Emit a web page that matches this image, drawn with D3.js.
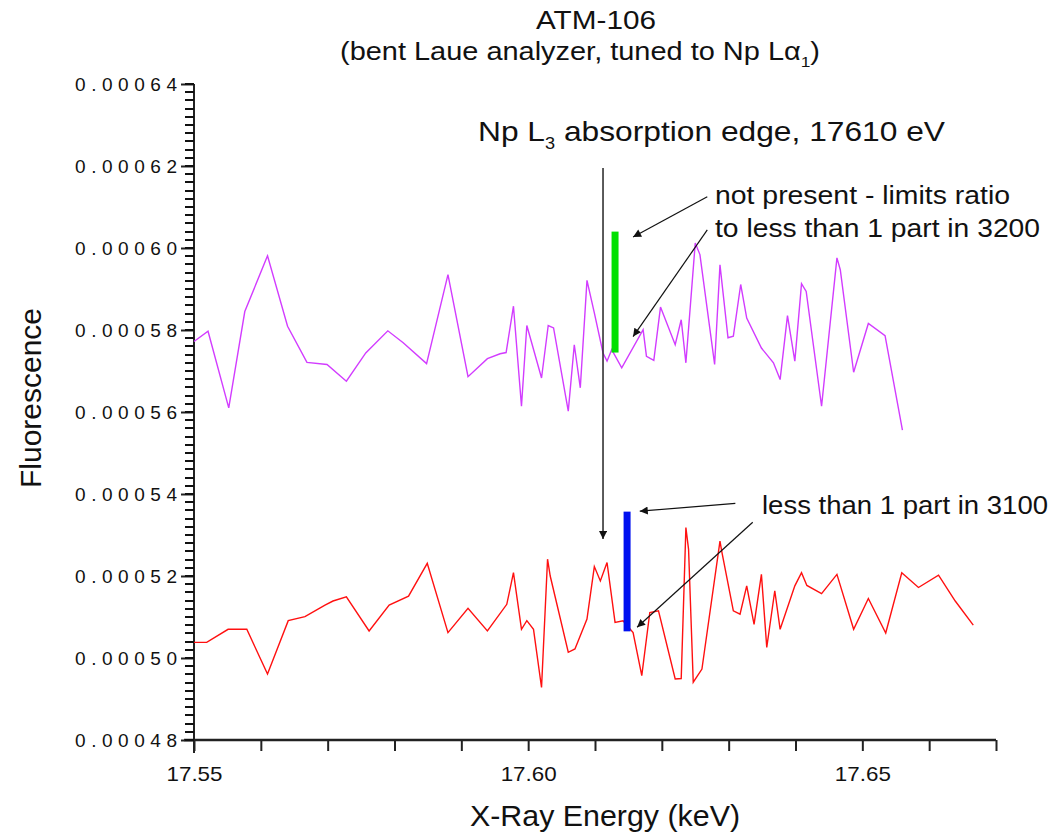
<!DOCTYPE html>
<html>
<head>
<meta charset="utf-8">
<script src="https://cdn.jsdelivr.net/npm/d3@7"></script>
<style>
  body { margin: 0; background: #fff; }
  svg text { font-family: "Liberation Sans", Arial, sans-serif; fill: #111; }
</style>
</head>
<body>
<svg id="chart" width="1055" height="832"></svg>
<script>
// data (keV, fluorescence)
const purpleEnergy = [17.5500, 17.5521, 17.5552, 17.5576, 17.5610, 17.5640, 17.5669, 17.5699, 17.5728, 17.5757,
  17.5790, 17.5813, 17.5848, 17.5880, 17.5910, 17.5939, 17.5958, 17.5967, 17.5978, 17.5990,
  17.5998, 17.6020, 17.6030, 17.6038, 17.6060, 17.6069, 17.6078, 17.6088, 17.6099, 17.6112,
  17.6118, 17.6125, 17.6140, 17.6172, 17.6177, 17.6188, 17.6198, 17.6220, 17.6229, 17.6236,
  17.6250, 17.6257, 17.6279, 17.6287, 17.6299, 17.6307, 17.6318, 17.6327, 17.6349, 17.6367,
  17.6377, 17.6388, 17.6399, 17.6409, 17.6416, 17.6439, 17.6462, 17.6467, 17.6487, 17.6509,
  17.6534, 17.6560];
const purpleFluor = [0.0005772, 0.0005797, 0.0005610, 0.0005845, 0.0005981, 0.0005809, 0.0005721, 0.0005716, 0.0005675, 0.0005744,
  0.0005798, 0.0005769, 0.0005718, 0.0005935, 0.0005686, 0.0005730, 0.0005742, 0.0005745, 0.0005858, 0.0005614,
  0.0005811, 0.0005683, 0.0005811, 0.0005805, 0.0005602, 0.0005764, 0.0005659, 0.0005921, 0.0005842, 0.0005744,
  0.0005724, 0.0005752, 0.0005708, 0.0005801, 0.0005736, 0.0005726, 0.0005856, 0.0005764, 0.0005825, 0.0005720,
  0.0006012, 0.0005984, 0.0005716, 0.0005959, 0.0005781, 0.0005785, 0.0005911, 0.0005829, 0.0005756, 0.0005720,
  0.0005679, 0.0005835, 0.0005724, 0.0005913, 0.0005894, 0.0005614, 0.0005976, 0.0005947, 0.0005697, 0.0005816,
  0.0005786, 0.0005556];

const redEnergy = [17.5500, 17.5519, 17.5551, 17.5579, 17.5610, 17.5641, 17.5666, 17.5696, 17.5708, 17.5728,
  17.5762, 17.5792, 17.5821, 17.5849, 17.5880, 17.5910, 17.5939, 17.5968, 17.5978, 17.5990,
  17.5998, 17.6008, 17.6020, 17.6029, 17.6033, 17.6060, 17.6070, 17.6088, 17.6099, 17.6108,
  17.6118, 17.6130, 17.6142, 17.6157, 17.6170, 17.6182, 17.6195, 17.6220, 17.6229, 17.6236,
  17.6240, 17.6247, 17.6260, 17.6287, 17.6290, 17.6307, 17.6317, 17.6327, 17.6338, 17.6349,
  17.6357, 17.6369, 17.6377, 17.6399, 17.6409, 17.6417, 17.6439, 17.6462, 17.6487, 17.6509,
  17.6535, 17.6559, 17.6584, 17.6614, 17.6639, 17.6666];
const redFluor = [0.0005038, 0.0005038, 0.0005070, 0.0005070, 0.0004961, 0.0005091, 0.0005101, 0.0005129, 0.0005139, 0.0005149,
  0.0005066, 0.0005129, 0.0005151, 0.0005231, 0.0005062, 0.0005121, 0.0005066, 0.0005131, 0.0005208, 0.0005070,
  0.0005091, 0.0005070, 0.0004928, 0.0005241, 0.0005200, 0.0005014, 0.0005022, 0.0005095, 0.0005223, 0.0005188,
  0.0005233, 0.0005087, 0.0005091, 0.0005062, 0.0004957, 0.0005111, 0.0005115, 0.0004949, 0.0004950, 0.0005318,
  0.0005265, 0.0004941, 0.0004973, 0.0005285, 0.0005257, 0.0005115, 0.0005107, 0.0005176, 0.0005082, 0.0005204,
  0.0005026, 0.0005164, 0.0005070, 0.0005176, 0.0005208, 0.0005177, 0.0005157, 0.0005204, 0.0005070, 0.0005145,
  0.0005061, 0.0005208, 0.0005172, 0.0005202, 0.0005139, 0.0005080];

// axis ticks
const xMinorTicks = [17.55, 17.56, 17.57, 17.58, 17.59, 17.60, 17.61, 17.62, 17.63, 17.64, 17.65, 17.66, 17.67];
const xLabelTicks = [17.55, 17.60, 17.65];
const yMajorTicks = [0.00048, 0.00050, 0.00052, 0.00054, 0.00056, 0.00058, 0.00060, 0.00062, 0.00064];
const yMinorStep = 0.000002;

// marker bars and the edge line: [energy, fluorescence low, fluorescence high]
const edgeLine = [17.6112, 0.000529, 0.0006195];
const greenBar = [17.6130, 0.0005745, 0.000604];
const blueBar = [17.6148, 0.0005065, 0.0005357];
// arrows: [fromEnergy, fromFluor, toEnergy, toFluor]
const arrows = [
  [17.6268, 0.0006125, 17.6157, 0.0006027],
  [17.6268, 0.0006044, 17.6157, 0.0005784],
  [17.6310, 0.0005377, 17.6167, 0.0005358],
  [17.6336, 0.0005331, 17.6163, 0.0005075]
];

const svg = d3.select("#chart");
const x = d3.scaleLinear().domain([17.55, 17.67]).range([194, 996]);
const y = d3.scaleLinear().domain([0.00048, 0.00064]).range([740, 84]);

svg.append("defs").append("marker")
  .attr("id", "head")
  .attr("viewBox", "0 0 10 10")
  .attr("refX", 10).attr("refY", 5)
  .attr("markerWidth", 11).attr("markerHeight", 8)
  .attr("markerUnits", "userSpaceOnUse")
  .attr("orient", "auto")
  .append("path").attr("d", "M0,0L10,5L0,10Z").attr("fill", "#111");

// y axis
const yMaj = svg.append("g").attr("transform", "translate(194,0)")
  .call(d3.axisLeft(y).tickValues(yMajorTicks).tickSize(13).tickFormat(d3.format(".5f")));
yMaj.select(".domain").remove();
yMaj.selectAll(".tick line").attr("stroke", "#222").attr("stroke-width", 2);
yMaj.selectAll(".tick text")
  .attr("x", -17).attr("font-size", 19)
  .attr("textLength", 102).attr("lengthAdjust", "spacing")
  .attr("font-family", "Liberation Sans, Arial, sans-serif").attr("fill", "#111");
svg.append("line").attr("x1", 194).attr("x2", 194).attr("y1", y(0.00064)).attr("y2", 753)
  .attr("stroke", "#222").attr("stroke-width", 2);

// x axis
const xAxis = svg.append("g").attr("transform", "translate(0,740)")
  .call(d3.axisBottom(x).tickValues(xMinorTicks).tickSize(11).tickFormat(d3.format(".2f")));
xAxis.select(".domain").remove();
xAxis.selectAll(".tick text").remove();
xAxis.selectAll(".tick line").attr("stroke", "#222").attr("stroke-width", 2);
const xLab = svg.append("g").attr("transform", "translate(0,740)")
  .call(d3.axisBottom(x).tickValues(xLabelTicks).tickSize(0).tickPadding(26).tickFormat(d3.format(".2f")));
xLab.select(".domain").remove();
xLab.selectAll(".tick text").attr("font-size", 21)
  .attr("textLength", 56).attr("lengthAdjust", "spacingAndGlyphs")
  .attr("font-family", "Liberation Sans, Arial, sans-serif").attr("fill", "#111");
svg.append("line").attr("x1", 184).attr("x2", x(17.67)).attr("y1", 740).attr("y2", 740)
  .attr("stroke", "#222").attr("stroke-width", 2.5);

// data lines
const line = d3.line().x(d => x(d[0])).y(d => y(d[1]));
svg.append("path").datum(d3.zip(purpleEnergy, purpleFluor))
  .attr("d", line).attr("fill", "none").attr("stroke", "#d23cff").attr("stroke-width", 1.4);
svg.append("path").datum(d3.zip(redEnergy, redFluor))
  .attr("d", line).attr("fill", "none").attr("stroke", "#ff1010").attr("stroke-width", 1.4);

// edge marker and bars
svg.append("line").attr("x1", x(edgeLine[0])).attr("x2", x(edgeLine[0]))
  .attr("y1", y(edgeLine[2])).attr("y2", y(edgeLine[1]))
  .attr("stroke", "#333").attr("stroke-width", 1.6).attr("marker-end", "url(#head)");
svg.append("line").attr("x1", x(greenBar[0])).attr("x2", x(greenBar[0]))
  .attr("y1", y(greenBar[1])).attr("y2", y(greenBar[2]))
  .attr("stroke", "#00e000").attr("stroke-width", 7);
svg.append("line").attr("x1", x(blueBar[0])).attr("x2", x(blueBar[0]))
  .attr("y1", y(blueBar[1])).attr("y2", y(blueBar[2]))
  .attr("stroke", "#0010f0").attr("stroke-width", 7);

svg.selectAll(".arrow").data(arrows).enter().append("line")
  .attr("class", "arrow")
  .attr("x1", d => x(d[0])).attr("y1", d => y(d[1]))
  .attr("x2", d => x(d[2])).attr("y2", d => y(d[3]))
  .attr("stroke", "#111").attr("stroke-width", 1.2).attr("marker-end", "url(#head)");

// minor y ticks, drawn last so nothing covers them
const yMinor = d3.range(0, 81).map(i => 0.00048 + i * yMinorStep);
svg.append("path")
  .attr("d", yMinor.map(d => `M185,${Math.round(y(d))}H194`).join(""))
  .attr("fill", "none").attr("stroke", "#111").attr("stroke-width", 2);

// texts (stretched to the widths seen in the reference)
function label(px, py, size, width, str) {
  return svg.append("text").attr("x", px).attr("y", py).attr("font-size", size)
    .attr("textLength", width).attr("lengthAdjust", "spacingAndGlyphs").text(str);
}
label(536, 29, 26, 120, "ATM-106");
const sub = svg.append("text").attr("x", 340).attr("y", 60).attr("font-size", 25)
  .attr("textLength", 480).attr("lengthAdjust", "spacingAndGlyphs");
sub.append("tspan").text("(bent Laue analyzer, tuned to Np L\u03b1");
sub.append("tspan").attr("font-size", 15).attr("dy", 7).text("1");
sub.append("tspan").attr("dy", -7).text(")");

const edge = svg.append("text").attr("x", 478).attr("y", 141).attr("font-size", 28)
  .attr("textLength", 467).attr("lengthAdjust", "spacingAndGlyphs");
edge.append("tspan").text("Np L");
edge.append("tspan").attr("font-size", 16).attr("dy", 8).text("3");
edge.append("tspan").attr("dy", -8).text(" absorption edge, 17610 eV");

label(715, 204, 26, 295, "not present - limits ratio");
label(715, 237, 26, 325, "to less than 1 part in 3200");
label(762, 514, 26, 286, "less than 1 part in 3100");

label(470, 826, 29, 270, "X-Ray Energy (keV)");
svg.append("text").attr("transform", "translate(41,488) rotate(-90)")
  .attr("font-size", 29).attr("textLength", 180).attr("lengthAdjust", "spacingAndGlyphs")
  .text("Fluorescence");
</script>
</body>
</html>
